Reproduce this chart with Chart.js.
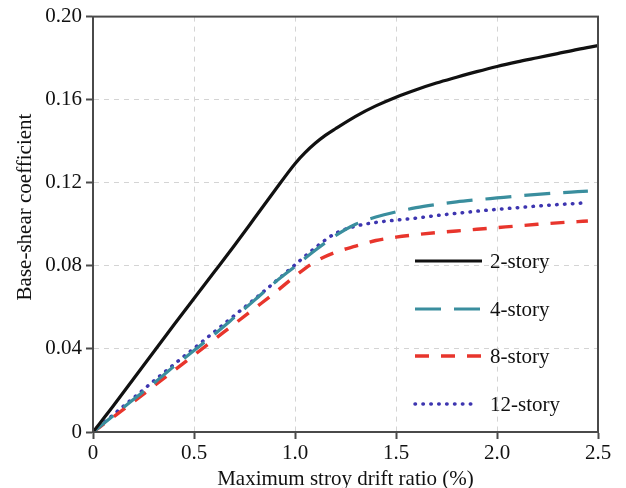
<!DOCTYPE html>
<html>
<head>
<meta charset="utf-8">
<title>Base-shear coefficient vs drift ratio</title>
<script src="https://cdn.jsdelivr.net/npm/chart.js@4/dist/chart.umd.min.js"></script>
<style>
  html, body { margin: 0; padding: 0; background: #fff; }
  #wrap { width: 626px; height: 488px; }
</style>
</head>
<body>
<div id="wrap"><canvas id="pushoverChart" width="626" height="488"></canvas></div>
<script>
// ===== Pushover curves: base-shear coefficient vs max story drift ratio =====

// drift ratio (%) sample points
var driftLong = [0, 0.1, 0.2, 0.3, 0.4, 0.5, 0.6, 0.7, 0.8, 0.9, 1.0, 1.05, 1.1, 1.15, 1.2, 1.3, 1.4, 1.5,
    1.6, 1.7, 1.8, 1.9, 2.0, 2.1, 2.2, 2.3, 2.4, 2.5];
var driftShort = [0, 0.1, 0.2, 0.3, 0.4, 0.5, 0.6, 0.7, 0.8, 0.9, 1.0, 1.1, 1.2, 1.3, 1.4, 1.5,
    1.6, 1.7, 1.8, 1.9, 2.0, 2.1, 2.2, 2.3, 2.4, 2.45];

// base-shear coefficient per model
var story2 = [0, 0.0125, 0.0255, 0.0385, 0.0515, 0.0643, 0.077, 0.0898, 0.103, 0.1163, 0.1292, 0.1345, 0.139,
    0.1428, 0.146, 0.152, 0.157, 0.1612, 0.1648, 0.168, 0.1708, 0.1735, 0.176, 0.1782, 0.1802, 0.1822, 0.1842, 0.186];
var story4 = [0, 0.0078, 0.0156, 0.0234, 0.0315, 0.0392, 0.047, 0.0552, 0.0635, 0.072, 0.0797, 0.0875, 0.0945,
    0.100, 0.1035, 0.106, 0.108, 0.1095, 0.1108, 0.1118, 0.1127, 0.1136, 0.1144, 0.1151, 0.1157, 0.116];
var story8 = [0, 0.0072, 0.0145, 0.022, 0.0295, 0.037, 0.0445, 0.052, 0.0595, 0.067, 0.075, 0.082, 0.0865,
    0.0895, 0.0922, 0.0938, 0.095, 0.096, 0.0968, 0.0976, 0.0984, 0.0992, 0.100, 0.1007, 0.1013, 0.1016];
var story12 = [0, 0.0083, 0.0164, 0.0245, 0.0325, 0.0403, 0.0482, 0.0561, 0.064, 0.0722, 0.0805, 0.0887, 0.0956,
    0.0991, 0.1009, 0.102, 0.103, 0.1042, 0.1053, 0.1063, 0.1072, 0.108, 0.1088, 0.1095, 0.1101, 0.1105];

var yTicks = [0, 0.04, 0.08, 0.12, 0.16, 0.20];
var xTicks = [0, 0.5, 1.0, 1.5, 2.0, 2.5];

var seriesNames = ['2-story', '4-story', '8-story', '12-story'];
var yTitle = 'Base-shear coefficient';
var xTitle = 'Maximum stroy drift ratio (%)';

var serifFont = "'Liberation Serif', 'Times New Roman', serif";
var axisColor = '#4a4a4a';
var gridColor = '#d4d4d4';

function toPoints(xs, ys) {
    return xs.map(function(x, i) { return { x: x, y: ys[i] }; });
}

// frame around plot area (top/right edges too) + rotated y title
var framePlugin = {
    id: 'frame',
    afterDraw: function(chart) {
        var a = chart.chartArea, ctx = chart.ctx;
        ctx.save();
        ctx.strokeStyle = axisColor;
        ctx.lineWidth = 2;
        ctx.strokeRect(a.left, a.top, a.right - a.left, a.bottom - a.top);

        ctx.translate(25, 207);
        ctx.rotate(-Math.PI / 2);
        ctx.fillStyle = '#111';
        ctx.font = '21px ' + serifFont;
        ctx.textAlign = 'center';
        ctx.textBaseline = 'middle';
        ctx.fillText(yTitle, 0, 0);
        ctx.restore();
    }
};

// legend drawn inside the plot, lower right
var insideLegend = {
    id: 'insideLegend',
    afterDraw: function(chart) {
        var ctx = chart.ctx;
        var rows = [261, 309, 356, 404];
        var x0 = 415, x1 = 482;
        ctx.save();
        chart.data.datasets.forEach(function(ds, i) {
            var y = rows[i];
            ctx.beginPath();
            ctx.setLineDash(ds.borderDash || []);
            ctx.lineCap = ds.borderCapStyle || 'butt';
            ctx.lineWidth = ds.borderWidth;
            ctx.strokeStyle = ds.borderColor;
            ctx.moveTo(x0, y);
            ctx.lineTo(i === 3 ? x1 - 6 : x1, y);
            ctx.stroke();
            ctx.setLineDash([]);
            ctx.fillStyle = '#111';
            ctx.font = '21px ' + serifFont;
            ctx.textBaseline = 'middle';
            ctx.fillText(ds.label, 490, y + 1);
        });
        ctx.restore();
    }
};

var ctx = document.getElementById('pushoverChart').getContext('2d');
new Chart(ctx, {
    type: 'line',
    data: {
        datasets: [
            {
                label: seriesNames[0],
                data: toPoints(driftLong, story2),
                borderColor: '#111111',
                borderWidth: 3.2,
                pointRadius: 0,
                cubicInterpolationMode: 'monotone'
            },
            {
                label: seriesNames[1],
                data: toPoints(driftShort, story4),
                borderColor: '#3a8e9e',
                borderWidth: 3.2,
                borderDash: [26, 13],
                pointRadius: 0,
                cubicInterpolationMode: 'monotone'
            },
            {
                label: seriesNames[2],
                data: toPoints(driftShort, story8),
                borderColor: '#e8352c',
                borderWidth: 3.4,
                borderDash: [14, 12],
                pointRadius: 0,
                cubicInterpolationMode: 'monotone'
            },
            {
                label: seriesNames[3],
                data: toPoints(driftShort, story12),
                borderColor: '#3d35b0',
                borderWidth: 3.5,
                borderDash: [0.5, 7.4],
                borderCapStyle: 'round',
                pointRadius: 0,
                cubicInterpolationMode: 'monotone'
            }
        ]
    },
    options: {
        responsive: false,
        animation: false,
        events: [],
        layout: { padding: { left: 0, right: 28, top: 16, bottom: 0 } },
        plugins: {
            legend: { display: false },
            tooltip: { enabled: false }
        },
        scales: {
            x: {
                type: 'linear',
                min: 0,
                max: 2.5,
                afterBuildTicks: function(scale) {
                    scale.ticks = xTicks.map(function(v) { return { value: v }; });
                },
                afterFit: function(scale) { scale.height = 56; },
                ticks: {
                    color: '#111',
                    font: { family: serifFont, size: 21 },
                    padding: 2,
                    maxRotation: 0,
                    callback: function(v) { return v === 0 ? '0' : v.toFixed(1); }
                },
                grid: {
                    color: gridColor,
                    lineWidth: 1,
                    tickColor: axisColor,
                    tickLength: 7,
                    tickWidth: 2
                },
                border: { color: axisColor, width: 2, dash: [5, 5] },
                title: {
                    display: true,
                    text: xTitle,
                    color: '#111',
                    font: { family: serifFont, size: 21 },
                    padding: { top: 0, bottom: -4 }
                }
            },
            y: {
                type: 'linear',
                min: 0,
                max: 0.2,
                afterBuildTicks: function(scale) {
                    scale.ticks = yTicks.map(function(v) { return { value: v }; });
                },
                afterFit: function(scale) { scale.width = 93; },
                ticks: {
                    color: '#111',
                    font: { family: serifFont, size: 21 },
                    padding: 4,
                    callback: function(v) { return v === 0 ? '0' : v.toFixed(2); }
                },
                grid: {
                    color: gridColor,
                    lineWidth: 1,
                    tickColor: axisColor,
                    tickLength: 7,
                    tickWidth: 2
                },
                border: { color: axisColor, width: 2, dash: [5, 5] }
            }
        }
    },
    plugins: [framePlugin, insideLegend]
});
</script>
</body>
</html>
